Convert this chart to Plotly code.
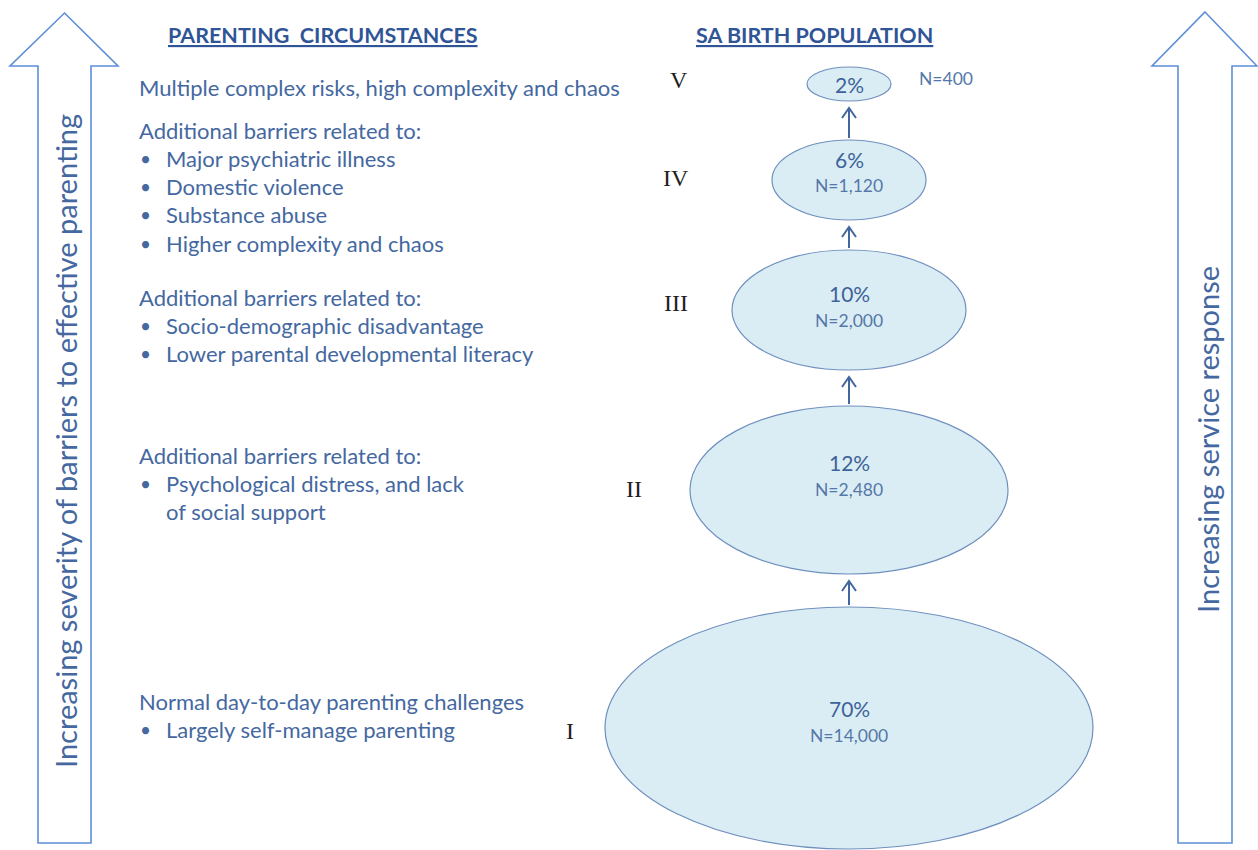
import plotly.graph_objects as go

# ---------------- data ----------------
tiers = ["V", "IV", "III", "II", "I"]
pct_labels = ["2%", "6%", "10%", "12%", "70%"]
n_labels = ["N=400", "N=1,120", "N=2,000", "N=2,480", "N=14,000"]

tier_headers = [
    "Multiple complex risks, high complexity and chaos",
    "Additional barriers related to:",
    "Additional barriers related to:",
    "Additional barriers related to:",
    "Normal day-to-day parenting challenges",
]
# "\n" marks a wrapped continuation line of the same bullet
tier_bullets = [
    [],
    ["Major psychiatric illness", "Domestic violence", "Substance abuse", "Higher complexity and chaos"],
    ["Socio-demographic disadvantage", "Lower parental developmental literacy"],
    ["Psychological distress, and lack\nof social support"],
    ["Largely self-manage parenting"],
]
left_title = "PARENTING  CIRCUMSTANCES"
right_title = "SA BIRTH POPULATION"
left_arrow_text = "Increasing severity of barriers to effective parenting"
right_arrow_text = "Increasing service response"

# ---------------- layout (pixel space) ----------------
W, H = 1258, 850
cx = 849
ell_cy = [84, 180, 310, 490, 728]
ell_rx = [42, 77, 117, 159, 244]
ell_ry = [17, 40, 60, 84, 121]
pct_dy = [0, -21, -17, -28, -20]
n_dy = [None, 5, 10, -1, 7]
n_outside = (946, 78)
roman_xy = [(679, 80), (676, 178), (676, 303), (634, 489), (570, 731)]
header_y = [87, 130, 297, 455, 701]
line_h = 28.3

TXT = "#44689F"
DARK = "#2F5597"
FILL = "#DBEDF4"
EDGE = "#6F90BE"
ARROW = "#5D8FD8"
FONT = "Lato"
FS = 22

fig = go.Figure()
shapes = []
ann = []

def big_arrow(xl, xr, wl, wr, tip, base, bottom):
    xm = (xl + xr) / 2
    return dict(type="path", xref="x", yref="y",
                path=f"M{xm},{tip} L{wr},{base} L{xr},{base} L{xr},{bottom} L{xl},{bottom} L{xl},{base} L{wl},{base} Z",
                line=dict(color=ARROW, width=1.6), fillcolor="white")

shapes.append(big_arrow(38, 91, 10, 118, 13, 66, 843))
shapes.append(big_arrow(1178, 1232, 1152, 1257, 12, 66, 843))

ann.append(dict(x=65, y=441, text=left_arrow_text, textangle=-90, showarrow=False,
                font=dict(family=FONT, size=29, color=TXT), xanchor="center", yanchor="middle"))
ann.append(dict(x=1207, y=440, text=right_arrow_text, textangle=-90, showarrow=False,
                font=dict(family=FONT, size=29, color=TXT), xanchor="center", yanchor="middle"))

ann.append(dict(x=323, y=35, text=f"<b><u>{left_title}</u></b>", showarrow=False,
                font=dict(family=FONT, size=21.5, color=DARK), xanchor="center", yanchor="middle"))
ann.append(dict(x=814, y=35, text=f"<b><u>{right_title}</u></b>", showarrow=False,
                font=dict(family=FONT, size=21.5, color=DARK), xanchor="center", yanchor="middle"))

# ellipses and labels
for i, t in enumerate(tiers):
    cy, rx, ry = ell_cy[i], ell_rx[i], ell_ry[i]
    shapes.append(dict(type="circle", xref="x", yref="y", x0=cx - rx, x1=cx + rx, y0=cy - ry, y1=cy + ry,
                       fillcolor=FILL, line=dict(color=EDGE, width=1.2), layer="below"))
    ann.append(dict(x=cx, y=cy + pct_dy[i], text=pct_labels[i], showarrow=False,
                    font=dict(family=FONT, size=21, color="#3D6399"), xanchor="center", yanchor="middle"))
    if n_dy[i] is None:
        nx, ny = n_outside
    else:
        nx, ny = cx, cy + n_dy[i]
    ann.append(dict(x=nx, y=ny, text=n_labels[i], showarrow=False,
                    font=dict(family=FONT, size=17.5, color="#5578AA"), xanchor="center", yanchor="middle"))
    rxy = roman_xy[i]
    ann.append(dict(x=rxy[0], y=rxy[1], text=t, showarrow=False,
                    font=dict(family="Liberation Serif", size=24, color="#1f1f1f"), xanchor="center", yanchor="middle"))
    # left descriptions
    ann.append(dict(x=137, y=header_y[i], text=tier_headers[i], showarrow=False,
                    font=dict(family=FONT, size=FS, color=TXT), xanchor="left", yanchor="middle"))
    k = 1
    for b in tier_bullets[i]:
        for li, line in enumerate(b.split("\n")):
            y = header_y[i] + line_h * k
            if li == 0:
                ann.append(dict(x=145, y=y, text="•", showarrow=False,
                                font=dict(family=FONT, size=19, color=TXT), xanchor="center", yanchor="middle"))
            ann.append(dict(x=164, y=y, text=line, showarrow=False,
                            font=dict(family=FONT, size=FS, color=TXT), xanchor="left", yanchor="middle"))
            k += 1

# connector arrows between ellipses (from lower ellipse top to upper ellipse bottom)
for i in range(len(tiers) - 1):
    top_of_lower = ell_cy[i + 1] - ell_ry[i + 1] - 2
    bottom_of_upper = ell_cy[i] + ell_ry[i] + 7
    shapes.append(dict(type="path", xref="x", yref="y",
                       path=f"M{cx},{top_of_lower} L{cx},{bottom_of_upper} "
                            f"M{cx-7},{bottom_of_upper+10} L{cx},{bottom_of_upper} L{cx+7},{bottom_of_upper+10}",
                       line=dict(color="#41679E", width=2)))

fig.update_layout(
    width=W, height=H, margin=dict(l=0, r=0, t=0, b=0),
    paper_bgcolor="white", plot_bgcolor="white",
    xaxis=dict(range=[0, W], visible=False, fixedrange=True),
    yaxis=dict(range=[H, 0], visible=False, fixedrange=True),
    shapes=shapes, annotations=ann, showlegend=False,
)
fig.write_html("out.html", config={"displayModeBar": False},
               post_script="document.body.style.margin='0';document.body.style.overflow='hidden';")
